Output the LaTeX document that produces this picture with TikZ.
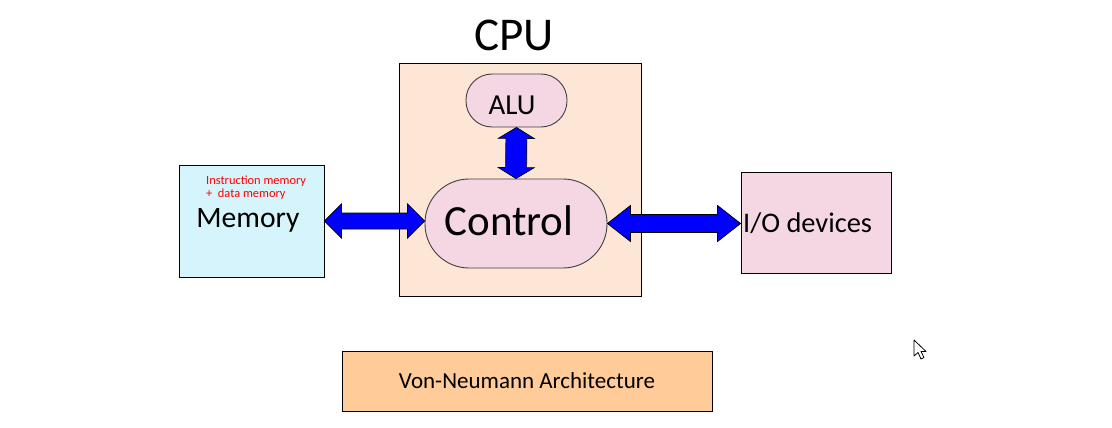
\documentclass[tikz,border=0pt]{standalone}
\usepackage{fontspec}
\setmainfont{Carlito}
\usetikzlibrary{calc}
\definecolor{cpufill}{HTML}{FEE6D6}
\definecolor{pinkfill}{HTML}{F4D7E3}
\definecolor{memfill}{HTML}{D5F4FC}
\definecolor{titlefill}{HTML}{FFCB98}
\definecolor{arrowblue}{HTML}{0000FF}
\newcommand\fs[1]{\fontsize{#1}{#1}\selectfont}
% block double arrow: #1 start, #2 end, #3 head length, #4 head half width, #5 shaft half width
\newcommand\blockarrow[5]{%
  \path (#1) coordinate (ba1) (#2) coordinate (ba2);
  \path ($(ba1)!#3!(ba2)$) coordinate (bh1) ($(ba2)!#3!(ba1)$) coordinate (bh2);
  \filldraw[blockarrow] (ba1) -- ($(bh1)!#4!90:(ba2)$) -- ($(bh1)!#5!90:(ba2)$)
    -- ($(bh2)!#5!-90:(ba1)$) -- ($(bh2)!#4!-90:(ba1)$) -- (ba2)
    -- ($(bh2)!#4!90:(ba1)$) -- ($(bh2)!#5!90:(ba1)$)
    -- ($(bh1)!#5!-90:(ba2)$) -- ($(bh1)!#4!-90:(ba2)$) -- cycle;
}
\begin{document}
\begin{tikzpicture}[x=1pt,y=-1pt,
  box/.style={draw=black, line width=0.9pt, inner sep=0pt, rectangle},
  pill/.style={draw=black!75, line width=0.9pt, inner sep=0pt, rectangle, fill=pinkfill},
  blockarrow/.style={fill=arrowblue, draw=black, line width=0.7pt, line join=miter},
  label/.style={inner sep=0pt},
  note/.style={text=red, font=\fs{12.4}, inner sep=0pt, anchor=west}]
\useasboundingbox (0,0) rectangle (1112,428);
\fill[white] (0,0) rectangle (1112,428);

\node[box, fill=cpufill, minimum width=242pt, minimum height=233pt] (cpu) at (520,179.5) {};
\node[label, font=\fs{47}] (cputitle) at (514,35) {CPU};

\node[pill, minimum width=101pt, minimum height=53pt, rounded corners=26pt] (alu) at (516.5,100.5) {};
\node[label, font=\fs{29}] (alutext) at (512,105) {ALU};
\node[pill, minimum width=182pt, minimum height=89pt, rounded corners=44pt] (ctrl) at (516,223.5) {};
\node[label, font=\fs{43}] (ctrltext) at (509,221) {Control};

\node[box, fill=memfill, minimum width=145pt, minimum height=112pt] (mem) at (251.5,221) {};
\node[label, font=\fs{29.6}] (memtext) at (248,220.5) {Memory};
\node[note] (note1) at (206,181) {Instruction memory};
\node[note] (note2) at (206,194) {+\ \ data memory};

\node[box, fill=pinkfill, minimum width=150pt, minimum height=101pt] (io) at (816,222.5) {};
\node[label, font=\fs{28.4}, anchor=west] (iotext) at (743,223) {I/O devices};

\node[box, fill=titlefill, minimum width=370pt, minimum height=60pt, font=\fs{23}] (title) at (527,381) {Von-Neumann Architecture};

\blockarrow{mem.east}{mem.east -| ctrl.west}{17pt}{17pt}{8pt}
\blockarrow{ctrl.east}{ctrl.east -| io.west}{23pt}{18pt}{9pt}
\blockarrow{alu.south}{ctrl.north}{11pt}{18pt}{10.5pt}

% mouse cursor
\filldraw[fill=white, draw=black, line width=0.8pt, line join=round]
  (914,340) -- (914,356) -- (918,352.5) -- (921,359) -- (924,357.5) -- (921,351.5) -- (926,351.5) -- cycle;
\end{tikzpicture}
\end{document}
